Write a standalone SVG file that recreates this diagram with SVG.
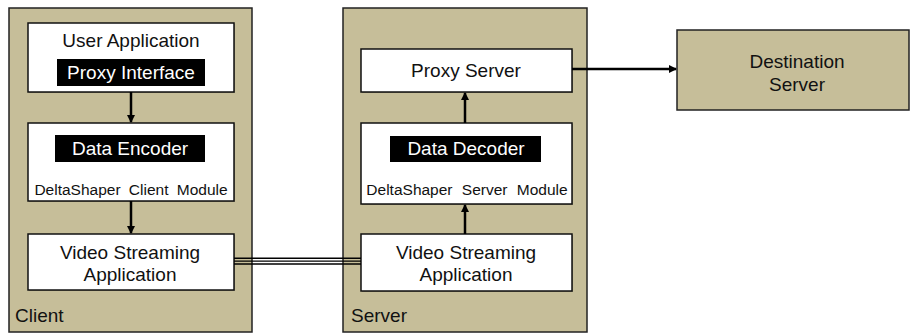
<svg xmlns="http://www.w3.org/2000/svg" width="910" height="333" viewBox="0 0 910 333">
<defs>
<style>
.cont{fill:#C6BE99;stroke:#222;stroke-width:1.5}
.box{fill:#fff;stroke:#111;stroke-width:1.5}
.shadow{fill:#000;opacity:0.25}
.blk{fill:#000}
.t{font-family:"Liberation Sans",Arial,Helvetica,sans-serif;font-size:19px;fill:#111}
.tw{font-family:"Liberation Sans",Arial,Helvetica,sans-serif;font-size:19px;fill:#fff}
.ts{font-family:"Liberation Sans",Arial,Helvetica,sans-serif;font-size:15.5px;fill:#111}
.c{text-anchor:middle}
.ln{stroke:#000;stroke-width:2.5;fill:none}
</style>
<marker id="ah" markerWidth="8" markerHeight="8" refX="7" refY="4" orient="auto" markerUnits="userSpaceOnUse">
<path d="M0,0 L8,4 L0,8 Z" fill="#000"/>
</marker>
</defs>

<g id="client">
<rect class="cont" x="9" y="8" width="243" height="324"/>
<text class="t" x="15" y="322">Client</text>
</g>

<g id="server">
<rect class="cont" x="343" y="8" width="244" height="324"/>
<text class="t" x="351" y="322">Server</text>
</g>

<g id="user-app">
<rect class="shadow" x="29" y="24" width="206" height="69"/>
<rect class="box" x="28" y="23" width="206" height="69"/>
<text class="t c" x="131" y="47">User Application</text>
<rect class="blk" x="57" y="59" width="148" height="27"/>
<text class="tw c" x="131" y="79">Proxy Interface</text>
</g>

<g id="client-module">
<rect class="shadow" x="29" y="124" width="206" height="78"/>
<rect class="box" x="28" y="123" width="206" height="78"/>
<rect class="blk" x="55" y="135" width="150" height="27"/>
<text class="tw c" x="130" y="155">Data Encoder</text>
<text class="ts c" x="131" y="195" word-spacing="4">DeltaShaper Client Module</text>
</g>

<g id="client-video">
<rect class="shadow" x="29" y="235" width="206" height="56"/>
<rect class="box" x="28" y="234" width="206" height="56"/>
<text class="t c" x="130" y="259">Video Streaming</text>
<text class="t c" x="130" y="281">Application</text>
</g>

<g id="proxy-server">
<rect class="shadow" x="362" y="50" width="211" height="43"/>
<rect class="box" x="361" y="49" width="211" height="43"/>
<text class="t c" x="466" y="77">Proxy Server</text>
</g>

<g id="server-module">
<rect class="shadow" x="362" y="124" width="211" height="81"/>
<rect class="box" x="361" y="123" width="211" height="81"/>
<rect class="blk" x="390" y="136" width="151" height="26"/>
<text class="tw c" x="466" y="155">Data Decoder</text>
<text class="ts c" x="467" y="195" word-spacing="5">DeltaShaper Server Module</text>
</g>

<g id="server-video">
<rect class="shadow" x="362" y="235" width="211" height="57"/>
<rect class="box" x="361" y="234" width="211" height="57"/>
<text class="t c" x="466" y="259">Video Streaming</text>
<text class="t c" x="466" y="281">Application</text>
</g>

<g id="destination">
<rect class="cont" x="677" y="30" width="232" height="80"/>
<text class="t c" x="797" y="68">Destination</text>
<text class="t c" x="797" y="91">Server</text>
</g>

<g id="connectors">
<line class="ln" x1="131" y1="92" x2="131" y2="122" marker-end="url(#ah)"/>
<line class="ln" x1="131" y1="201" x2="131" y2="233" marker-end="url(#ah)"/>
<line class="ln" x1="465" y1="234" x2="465" y2="205" marker-end="url(#ah)"/>
<line class="ln" x1="465" y1="123" x2="465" y2="93" marker-end="url(#ah)"/>
<line class="ln" x1="572" y1="69" x2="676" y2="69" marker-end="url(#ah)"/>
<line x1="234" y1="258.3" x2="361" y2="258.3" stroke="#000" stroke-width="1.4"/>
<line x1="234" y1="261.2" x2="361" y2="261.2" stroke="#000" stroke-width="1.2"/>
<line x1="234" y1="264" x2="361" y2="264" stroke="#000" stroke-width="1.4"/>
</g>
</svg>
